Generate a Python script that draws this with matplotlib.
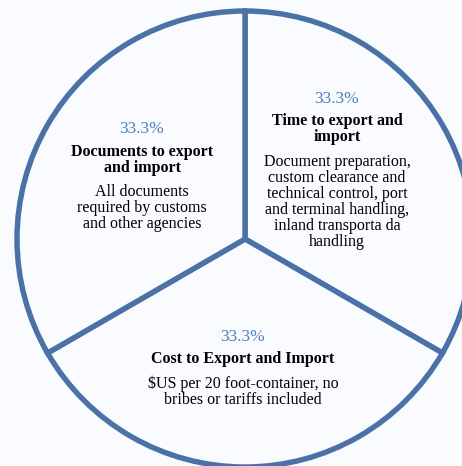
import matplotlib.pyplot as plt

# three equal components of the trading-across-borders indicator
categories = ['Time to export and\nimport',
              'Documents to export\nand import',
              'Cost to Export and Import']
shares = [1, 1, 1]
descriptions = ['Document preparation,\ncustom clearance and\ntechnical control, port\nand terminal handling,\ninland transporta da\nhandling',
                'All documents\nrequired by customs\nand other agencies',
                '$US per 20 foot-container, no\nbribes or tariffs included']

bg = '#f9fbfe'
edge = '#4a72a6'
pct_color = '#4f80c0'

fig = plt.figure(figsize=(4.62, 4.66), dpi=100, facecolor=bg)
ax = fig.add_axes([0, 0, 1, 1])
ax.set_facecolor(bg)

# pixel-like coordinates, y up
ax.pie(shares, startangle=90, counterclock=False, center=(245, 227), radius=228,
       colors=[bg] * 3, frame=True,
       wedgeprops=dict(edgecolor=edge, linewidth=3.9))
ax.set_xlim(0, 462)
ax.set_ylim(0, 466)
ax.set_aspect('equal')
ax.axis('off')

total = sum(shares)
pcts = ['%.1f%%' % (100 * s / total) for s in shares]

# label blocks: (x, y of percent, y of title top, y of description top)
spots = [(337, 367, 353, 312), (142, 337, 322, 282), (243, 129, 115, 91)]
font = ['Liberation Serif', 'DejaVu Serif']
fs = 11.5
for (x, yp, yt, yd), pct, cat, desc in zip(spots, pcts, categories, descriptions):
    ax.text(x, yp, pct, ha='center', va='center', fontsize=12.5,
            color=pct_color, family=font)
    ax.text(x, yt, cat, ha='center', va='top', fontsize=fs,
            fontweight='bold', family=font, linespacing=1.0)
    ax.text(x, yd, desc, ha='center', va='top', fontsize=fs,
            family=font, linespacing=1.0)

fig.savefig('out.png', dpi=100, facecolor=bg)
